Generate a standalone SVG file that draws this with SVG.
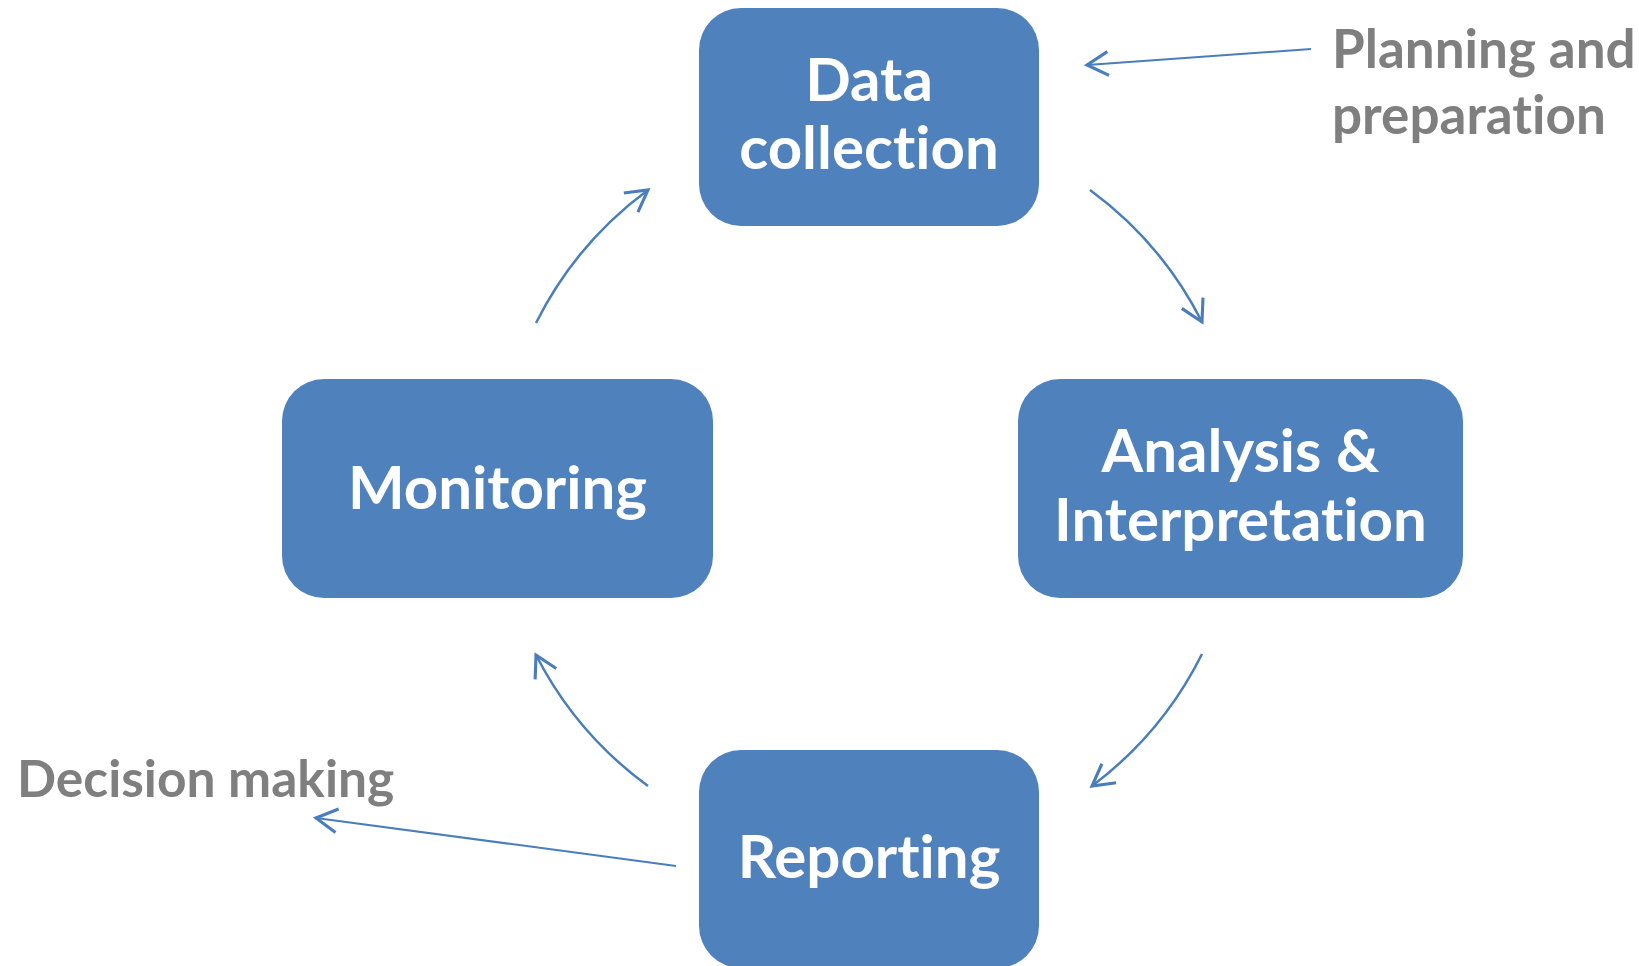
<svg xmlns="http://www.w3.org/2000/svg" width="1639" height="966" viewBox="0 0 1639 966">
  <style>
    text { font-variant-ligatures: none; font-feature-settings: "liga" 0; }
    .box { fill: #4f81bd; }
    .node-text { font-family: Lato, "Open Sans", "Liberation Sans", sans-serif; font-weight: bold; font-size: 60px; fill: #ffffff; text-anchor: middle; }
    .label { font-family: Lato, "Open Sans", "Liberation Sans", sans-serif; font-weight: bold; font-size: 53px; fill: #7f7f7f; }
    .link { fill: none; stroke: #4a7ebb; stroke-width: 2.5; marker-end: url(#open-arrow); }
    .pointer { fill: none; stroke: #4a7ebb; stroke-width: 2; marker-end: url(#open-arrow); }
  </style>
  <defs>
    <marker id="open-arrow" markerUnits="userSpaceOnUse" markerWidth="30" markerHeight="30" viewBox="-20 -12 24 24" refX="0" refY="0" orient="auto">
      <path d="M -17 -9.5 L 0 0 L -17 9.5" fill="none" stroke="#4a7ebb" stroke-width="2.5"/>
    </marker>
  </defs>

  <rect width="1639" height="966" fill="#ffffff"/>

  <!-- cycle connectors: arcs on a common circle around the centre -->
  <g id="connectors">
    <path class="link" d="M 1090 190 A 372 372 0 0 1 1202 322"/>
    <path class="link" d="M 1202 654 A 372 372 0 0 1 1092 786"/>
    <path class="link" d="M 648 786 A 372 372 0 0 1 536 655"/>
    <path class="link" d="M 536 323 A 372 372 0 0 1 648 190"/>
    <path class="pointer" d="M 1311 49 L 1087 65"/>
    <path class="pointer" d="M 676 866 L 316 818"/>
  </g>

  <g id="node-data-collection">
    <rect class="box" x="699" y="8" width="340" height="218" rx="42" ry="42"/>
    <text class="node-text" x="869" y="101">Data</text>
    <text class="node-text" x="869" y="169">collection</text>
  </g>

  <g id="node-analysis">
    <rect class="box" x="1018" y="379" width="445" height="219" rx="42" ry="42"/>
    <text class="node-text" x="1240.5" y="472">Analysis &amp;</text>
    <text class="node-text" x="1240.5" y="541">Interpretation</text>
  </g>

  <g id="node-reporting">
    <rect class="box" x="699" y="750" width="340" height="218" rx="42" ry="42"/>
    <text class="node-text" x="869" y="878">Reporting</text>
  </g>

  <g id="node-monitoring">
    <rect class="box" x="282" y="379" width="431" height="219" rx="42" ry="42"/>
    <text class="node-text" x="497.5" y="509">Monitoring</text>
  </g>

  <g id="label-planning">
    <text class="label" x="1332" y="68">Planning and</text>
    <text class="label" x="1332" y="134">preparation</text>
  </g>

  <g id="label-decision">
    <text class="label" x="17" y="797" style="font-size:51.5px">Decision making</text>
  </g>
</svg>
